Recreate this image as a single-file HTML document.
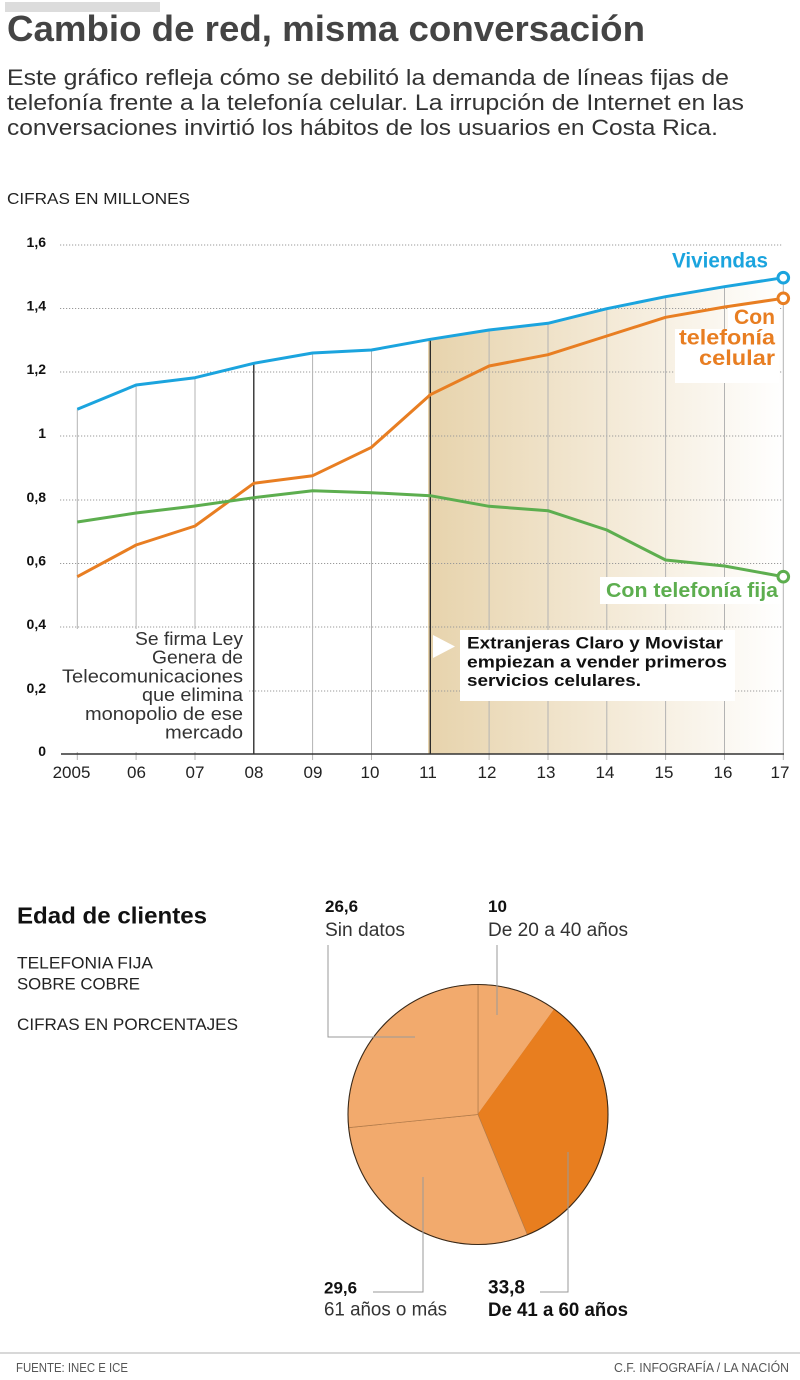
<!DOCTYPE html>
<html>
<head>
<meta charset="utf-8">
<style>
  html,body{margin:0;padding:0;background:#fff;}
  svg{display:block;}
  text{font-family:"Liberation Sans", sans-serif;}
</style>
</head>
<body>
<svg width="800" height="1380" viewBox="0 0 800 1380" xmlns="http://www.w3.org/2000/svg">
  <defs>
    <linearGradient id="shade" gradientUnits="userSpaceOnUse" x1="428" y1="0" x2="785" y2="0">
      <stop offset="0" stop-color="#E7D3AC"/>
      <stop offset="1" stop-color="#FFFFFF"/>
    </linearGradient>
  </defs>

  <!-- Header -->
  <rect x="5" y="2" width="155" height="10" fill="#dcdcdc"/>
  <text x="7" y="41" font-size="36" font-weight="bold" fill="#444" textLength="638" lengthAdjust="spacingAndGlyphs">Cambio de red, misma conversación</text>
  <text x="7" y="85" font-size="22" fill="#333" textLength="722" lengthAdjust="spacingAndGlyphs">Este gráfico refleja cómo se debilitó la demanda de líneas fijas de</text>
  <text x="7" y="110" font-size="22" fill="#333" textLength="737" lengthAdjust="spacingAndGlyphs">telefonía frente a la telefonía celular. La irrupción de Internet en las</text>
  <text x="7" y="135" font-size="22" fill="#333" textLength="711" lengthAdjust="spacingAndGlyphs">conversaciones invirtió los hábitos de los usuarios en Costa Rica.</text>
  <text x="7" y="204" font-size="16" fill="#222" textLength="183" lengthAdjust="spacingAndGlyphs">CIFRAS EN MILLONES</text>

  <!-- Shaded area under Viviendas from 2011 -->
  <polygon points="428,339.6 430.3,339.3 489.1,330 548,323.3 606.8,308.7 665.6,296.7 724.5,286.7 783.3,277.7 783.3,754 428,754" fill="url(#shade)"/>

  <!-- Horizontal dotted gridlines -->
  <g stroke="#9a9a9a" stroke-width="1" stroke-dasharray="1.2,1.8">
    <line x1="60" y1="245" x2="783" y2="245"/>
    <line x1="60" y1="308.5" x2="783" y2="308.5"/>
    <line x1="60" y1="372" x2="783" y2="372"/>
    <line x1="60" y1="436" x2="783" y2="436"/>
    <line x1="60" y1="500" x2="783" y2="500"/>
    <line x1="60" y1="563.5" x2="783" y2="563.5"/>
    <line x1="60" y1="627" x2="783" y2="627"/>
    <line x1="60" y1="691" x2="783" y2="691"/>
  </g>

  <!-- Vertical lines -->
  <g stroke="#b3b3b3" stroke-width="1">
    <line x1="77.3" y1="409.3" x2="77.3" y2="760"/>
    <line x1="136.1" y1="385" x2="136.1" y2="760"/>
    <line x1="195" y1="377.7" x2="195" y2="760"/>
    <line x1="312.6" y1="353" x2="312.6" y2="760"/>
    <line x1="371.5" y1="350" x2="371.5" y2="760"/>
    <line x1="489.1" y1="330" x2="489.1" y2="760"/>
    <line x1="548" y1="323.3" x2="548" y2="760"/>
    <line x1="606.8" y1="308.7" x2="606.8" y2="760"/>
    <line x1="665.6" y1="296.7" x2="665.6" y2="760"/>
    <line x1="724.5" y1="286.7" x2="724.5" y2="760"/>
    <line x1="783.3" y1="277.7" x2="783.3" y2="760"/>
  </g>
  <g stroke="#222" stroke-width="1.3">
    <line x1="253.8" y1="363.3" x2="253.8" y2="754"/>
    <line x1="430.3" y1="339.3" x2="430.3" y2="754"/>
  </g>

  <!-- White boxes behind annotations/labels -->
  <rect x="58" y="629" width="190" height="123" fill="#fff"/>
  <rect x="460" y="630" width="275" height="71" fill="#fff"/>
  <polygon points="728,303 779,303 779,383 675,383 675,329 728,329" fill="#fff"/>
  <rect x="600" y="577" width="181" height="27" fill="#fff"/>

  <!-- white triangle -->
  <polygon points="433,635 433,658 455,646.5" fill="#fff"/>

  <!-- Baseline axis -->
  <line x1="61" y1="754" x2="784" y2="754" stroke="#333" stroke-width="1.6"/>

  <!-- Series lines -->
  <polyline fill="none" stroke="#1BA4DE" stroke-width="3" stroke-linejoin="round" points="77.3,409.3 136.1,385 195,377.7 253.8,363.3 312.6,353 371.5,350 430.3,339.3 489.1,330 548,323.3 606.8,308.7 665.6,296.7 724.5,286.7 783.3,277.7"/>
  <polyline fill="none" stroke="#E87E22" stroke-width="3" stroke-linejoin="round" points="77.3,576.7 136.1,545 195,526 253.8,483.3 312.6,475.7 371.5,447.3 430.3,394.7 489.1,366 548,354.7 606.8,336 665.6,317.3 724.5,307 783.3,298.3"/>
  <polyline fill="none" stroke="#5DAE4F" stroke-width="3" stroke-linejoin="round" points="77.3,522 136.1,513 195,506 253.8,497.7 312.6,490.7 371.5,492.7 430.3,495.7 489.1,506.3 548,510.7 606.8,530 665.6,560 724.5,566 783.3,576.7"/>

  <!-- End markers -->
  <circle cx="783.3" cy="277.7" r="5.3" fill="#fff" stroke="#1BA4DE" stroke-width="3"/>
  <circle cx="783.3" cy="298.3" r="5.3" fill="#fff" stroke="#E87E22" stroke-width="3"/>
  <circle cx="783.3" cy="576.7" r="5.3" fill="#fff" stroke="#5DAE4F" stroke-width="3"/>

  <!-- Series labels -->
  <text x="768" y="267.5" font-size="21" font-weight="bold" fill="#1BA4DE" text-anchor="end" textLength="96" lengthAdjust="spacingAndGlyphs">Viviendas</text>
  <text x="775" y="324" font-size="21" font-weight="bold" fill="#E87E22" text-anchor="end" textLength="41" lengthAdjust="spacingAndGlyphs">Con</text>
  <text x="775" y="344.5" font-size="21" font-weight="bold" fill="#E87E22" text-anchor="end" textLength="96" lengthAdjust="spacingAndGlyphs">telefonía</text>
  <text x="775" y="365" font-size="21" font-weight="bold" fill="#E87E22" text-anchor="end" textLength="76" lengthAdjust="spacingAndGlyphs">celular</text>
  <text x="778" y="597" font-size="20" font-weight="bold" fill="#5DAE4F" text-anchor="end" textLength="172" lengthAdjust="spacingAndGlyphs">Con telefonía fija</text>

  <!-- Y axis labels -->
  <g font-size="14" font-weight="bold" fill="#111" text-anchor="end">
    <text x="46" y="247">1,6</text>
    <text x="46" y="310.5">1,4</text>
    <text x="46" y="374">1,2</text>
    <text x="46" y="438">1</text>
    <text x="46" y="502">0,8</text>
    <text x="46" y="565.5">0,6</text>
    <text x="46" y="629">0,4</text>
    <text x="46" y="693">0,2</text>
    <text x="46" y="756">0</text>
  </g>

  <!-- X axis labels -->
  <g font-size="17" fill="#222" text-anchor="middle">
    <text x="71.5" y="778">2005</text>
    <text x="136.5" y="778">06</text>
    <text x="195" y="778">07</text>
    <text x="254" y="778">08</text>
    <text x="313" y="778">09</text>
    <text x="370" y="778">10</text>
    <text x="428" y="778">11</text>
    <text x="487" y="778">12</text>
    <text x="546" y="778">13</text>
    <text x="605" y="778">14</text>
    <text x="664" y="778">15</text>
    <text x="723" y="778">16</text>
    <text x="780" y="778">17</text>
  </g>

  <!-- Annotation 2008 -->
  <g font-size="18" fill="#333" text-anchor="end">
    <text x="243" y="645" textLength="108" lengthAdjust="spacingAndGlyphs">Se firma Ley</text>
    <text x="243" y="663.7" textLength="91" lengthAdjust="spacingAndGlyphs">Genera de</text>
    <text x="243" y="682.4" textLength="181" lengthAdjust="spacingAndGlyphs">Telecomunicaciones</text>
    <text x="243" y="701" textLength="101" lengthAdjust="spacingAndGlyphs">que elimina</text>
    <text x="243" y="719.8" textLength="158" lengthAdjust="spacingAndGlyphs">monopolio de ese</text>
    <text x="243" y="738.5" textLength="78" lengthAdjust="spacingAndGlyphs">mercado</text>
  </g>

  <!-- Annotation 2011 -->
  <g font-size="17" font-weight="bold" fill="#111">
    <text x="467" y="648.3" textLength="256" lengthAdjust="spacingAndGlyphs">Extranjeras Claro y Movistar</text>
    <text x="467" y="667.3" textLength="260" lengthAdjust="spacingAndGlyphs">empiezan a vender primeros</text>
    <text x="467" y="686" textLength="174" lengthAdjust="spacingAndGlyphs">servicios celulares.</text>
  </g>

  <!-- Pie section heading -->
  <text x="17" y="923.5" font-size="23" font-weight="bold" fill="#111" textLength="190" lengthAdjust="spacingAndGlyphs">Edad de clientes</text>
  <text x="17" y="968.3" font-size="17" fill="#222" textLength="136" lengthAdjust="spacingAndGlyphs">TELEFONIA FIJA</text>
  <text x="17" y="989.3" font-size="17" fill="#222" textLength="123" lengthAdjust="spacingAndGlyphs">SOBRE COBRE</text>
  <text x="17" y="1030" font-size="17" fill="#222" textLength="221" lengthAdjust="spacingAndGlyphs">CIFRAS EN PORCENTAJES</text>

  <!-- Pie -->
  <g stroke="#b07a4a" stroke-width="0.7">
    <path d="M478,1114.5 L478,984.5 A130,130 0 0 1 554.4,1009.3 Z" fill="#F2AA6D"/>
    <path d="M478,1114.5 L554.4,1009.3 A130,130 0 0 1 527.4,1234.8 Z" fill="#E87E1F" stroke="#E87E1F"/>
    <path d="M478,1114.5 L527.4,1234.8 A130,130 0 0 1 348.7,1127.6 Z" fill="#F2AA6D"/>
    <path d="M478,1114.5 L348.7,1127.6 A130,130 0 0 1 478,984.5 Z" fill="#F2AA6D"/>
  </g>
  <circle cx="478" cy="1114.5" r="130" fill="none" stroke="#3a2a1a" stroke-width="1.1"/>

  <!-- Leader lines -->
  <g stroke="#999" stroke-width="1" fill="none">
    <polyline points="328,945 328,1037 415,1037"/>
    <line x1="497" y1="945" x2="497" y2="1015"/>
    <polyline points="373,1292 423,1292 423,1177"/>
    <polyline points="540,1292 568,1292 568,1152"/>
  </g>

  <!-- Pie labels -->
  <text x="325" y="912" font-size="17" font-weight="bold" fill="#111">26,6</text>
  <text x="325" y="936" font-size="19" fill="#333" textLength="80" lengthAdjust="spacingAndGlyphs">Sin datos</text>
  <text x="488" y="912" font-size="17" font-weight="bold" fill="#111">10</text>
  <text x="488" y="936" font-size="19" fill="#333" textLength="140" lengthAdjust="spacingAndGlyphs">De 20 a 40 años</text>
  <text x="324" y="1293.5" font-size="17" font-weight="bold" fill="#111">29,6</text>
  <text x="324" y="1315.5" font-size="19" fill="#333" textLength="123" lengthAdjust="spacingAndGlyphs">61 años o más</text>
  <text x="488" y="1293.5" font-size="19" font-weight="bold" fill="#111">33,8</text>
  <text x="488" y="1316" font-size="19" font-weight="bold" fill="#111" textLength="140" lengthAdjust="spacingAndGlyphs">De 41 a 60 años</text>

  <!-- Footer -->
  <line x1="0" y1="1353" x2="800" y2="1353" stroke="#cccccc" stroke-width="1.5"/>
  <text x="16" y="1372" font-size="12.5" fill="#555" textLength="112" lengthAdjust="spacingAndGlyphs">FUENTE: INEC E ICE</text>
  <text x="789" y="1372" font-size="12.5" fill="#555" text-anchor="end" textLength="175" lengthAdjust="spacingAndGlyphs">C.F. INFOGRAFÍA / LA NACIÓN</text>
</svg>
</body>
</html>
